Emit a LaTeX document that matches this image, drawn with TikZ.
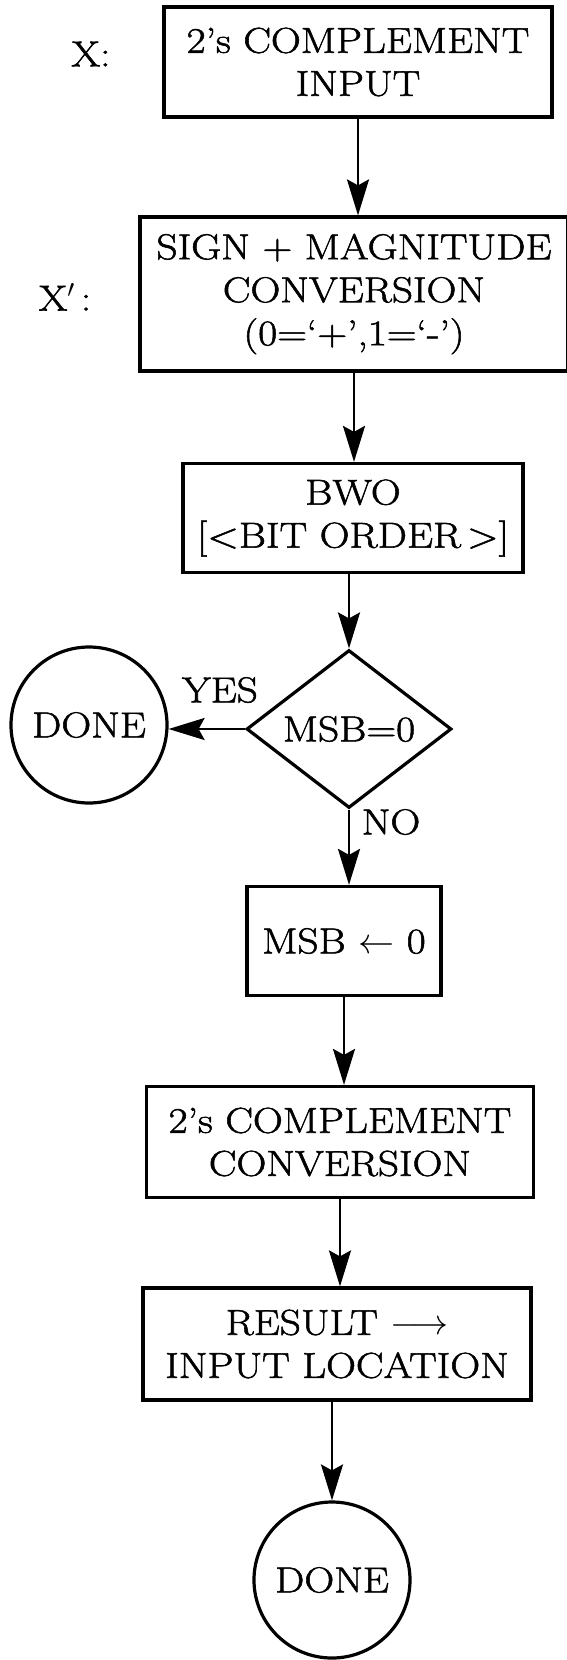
\RequirePackage{fix-cm}
\documentclass[tikz,border=0pt]{standalone}
\usepackage{fontspec}
\setmainfont{Latin Modern Roman}[FakeStretch=1.15,FakeBold=1.5]
\usetikzlibrary{shapes.geometric,arrows.meta}
\tikzset{
  txt/.style={font=\fontsize{36}{43}\selectfont, align=center, inner sep=0pt},
  procbox/.style={txt, draw, line width=3.2pt, rectangle},
  decbox/.style={txt, draw, line width=3.2pt, diamond, minimum width=205pt, minimum height=118pt},
  endcirc/.style={txt, draw, line width=3.2pt, circle, minimum size=156pt},
  arr/.style={line width=2.6pt, -{Stealth[length=36pt,width=22pt,inset=6pt]}},
  lbl/.style={txt}
}
\begin{document}
\begin{tikzpicture}[x=1pt,y=-1pt]
\useasboundingbox (0,0) rectangle (566,1660);
\fill[white] (0,0) rectangle (566,1660);

\node[procbox, minimum width=388pt, minimum height=110pt] (b1) at (358,62) {2’s COMPLEMENT\\INPUT};
\node[lbl] (lx) at (91,54) {X:};

\node[procbox, minimum width=428pt, minimum height=154pt] (b2) at (354,294) {SIGN + MAGNITUDE\\CONVERSION\\(0=‘+’,1=‘-’)};
\node[lbl] (lxp) at (65,297) {X$'$\,:};

\node[procbox, minimum width=340pt, minimum height=109pt] (b3) at (353,518) {BWO\\{}[<BIT ORDER\,>]};

\node[decbox] (d) at (349,729) {MSB=0};
\node[endcirc] (c1) at (89,725) {DONE};
\node[lbl] (yes) at (220,690) {YES};
\node[lbl] (no) at (391,822) {NO};

\node[procbox, minimum width=194pt, minimum height=109pt] (b4) at (344,941) {MSB $\leftarrow$ 0};

\node[procbox, minimum width=387pt, minimum height=111pt] (b5) at (340,1142) {2’s COMPLEMENT\\CONVERSION};

\node[procbox, minimum width=388pt, minimum height=112pt] (b6) at (337,1344) {RESULT $\longrightarrow$\\INPUT LOCATION};

\node[endcirc] (c2) at (332,1580) {DONE};

\draw[arr] (b1.south) -- (b1.south |- b2.north);
\draw[arr] (b2.south) -- (b2.south |- b3.north);
\draw[arr] (b3.south -| d.north) -- (d.north);
\draw[arr] (d.west) -- (d.west -| c1.east);
\draw[arr] (d.south) -- (d.south |- b4.north);
\draw[arr] (b4.south) -- (b4.south |- b5.north);
\draw[arr] (b5.south) -- (b5.south |- b6.north);
\draw[arr] (b6.south -| c2.north) -- (c2.north);
\end{tikzpicture}
\end{document}
